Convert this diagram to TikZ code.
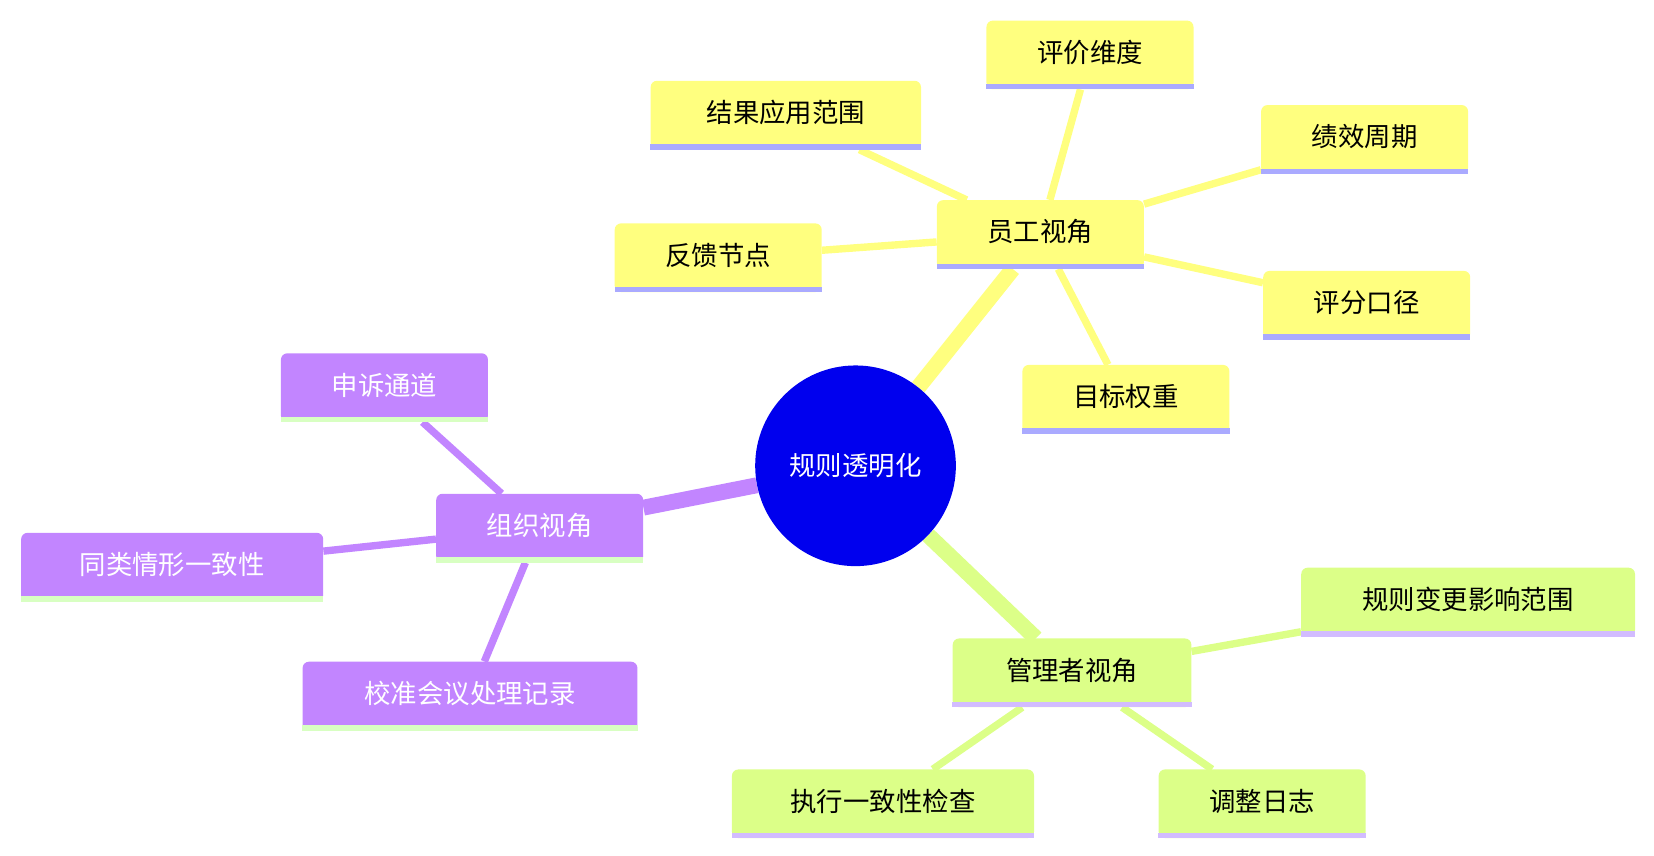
\documentclass[tikz,border=0pt]{standalone}
\usepackage{fontspec}
\setmainfont{Noto Sans CJK SC}
\usetikzlibrary{backgrounds}
\definecolor{ye}{HTML}{FFFF7F}
\definecolor{yb}{HTML}{AAAAFF}
\definecolor{gr}{HTML}{DCFF88}
\definecolor{gb}{HTML}{D2BCFF}
\definecolor{pu}{HTML}{C285FF}
\definecolor{pb}{HTML}{D8FFC2}
\definecolor{ce}{HTML}{0000EE}
\tikzset{
 box/.style={rounded corners=6pt, minimum height=65pt, inner xsep=14pt, text height=20pt, text depth=6pt, font=\fontsize{25}{30}\selectfont},
 ybox/.style={box, fill=ye, text=black, minimum width=196pt},
 gbox/.style={box, fill=gr, text=black, minimum width=196pt},
 pbox/.style={box, fill=pu, text=white, minimum width=196pt},
 yl/.style={draw=ye, line width=7pt},
 gl/.style={draw=gr, line width=7pt},
 pl/.style={draw=pu, line width=7pt},
}
\newcommand{\ubar}[2]{\fill[#2] ([yshift=0pt]#1.south west) rectangle ([yshift=5pt]#1.south east);}
\begin{document}
\begin{tikzpicture}[x=1pt,y=-1pt]
\useasboundingbox (0,0) rectangle (1566,810);
\node[circle, fill=ce, minimum size=190pt, text=white, font=\fontsize{25}{30}\selectfont] (c) at (810,441) {规则透明化};
\node[ybox] (e) at (985,222) {员工视角};
\node[ybox] (e1) at (1032,52) {评价维度};
\node[ybox, minimum width=256pt] (e2) at (744,109) {结果应用范围};
\node[ybox] (e3) at (1292,132) {绩效周期};
\node[ybox] (e4) at (680,244) {反馈节点};
\node[ybox] (e5) at (1294,289) {评分口径};
\node[ybox] (e6) at (1066,378) {目标权重};
\node[pbox] (o) at (511,500) {组织视角};
\node[pbox] (o1) at (364,367) {申诉通道};
\node[pbox, minimum width=286pt] (o2) at (163,537) {同类情形一致性};
\node[pbox, minimum width=317pt] (o3) at (445,659) {校准会议处理记录};
\node[gbox, minimum width=226pt] (m) at (1015,637) {管理者视角};
\node[gbox, minimum width=316pt] (m1) at (1390,570) {规则变更影响范围};
\node[gbox, minimum width=286pt] (m2) at (836,761) {执行一致性检查};
\node[gbox] (m3) at (1195,761) {调整日志};
\foreach \n in {e,e1,e2,e3,e4,e5,e6} {\ubar{\n}{yb}}
\foreach \n in {o,o1,o2,o3} {\ubar{\n}{pb}}
\foreach \n in {m,m1,m2,m3} {\ubar{\n}{gb}}
\begin{scope}[on background layer]
\draw[draw=ye, line width=15pt] (c) -- (e);
\draw[draw=pu, line width=15pt] (c) -- (o);
\draw[draw=gr, line width=15pt] (c) -- (m);
\foreach \n in {e1,e2,e3,e4,e5,e6} {\draw[yl] (e) -- (\n);}
\foreach \n in {o1,o2,o3} {\draw[pl] (o) -- (\n);}
\foreach \n in {m1,m2,m3} {\draw[gl] (m) -- (\n);}
\end{scope}
\end{tikzpicture}
\end{document}
